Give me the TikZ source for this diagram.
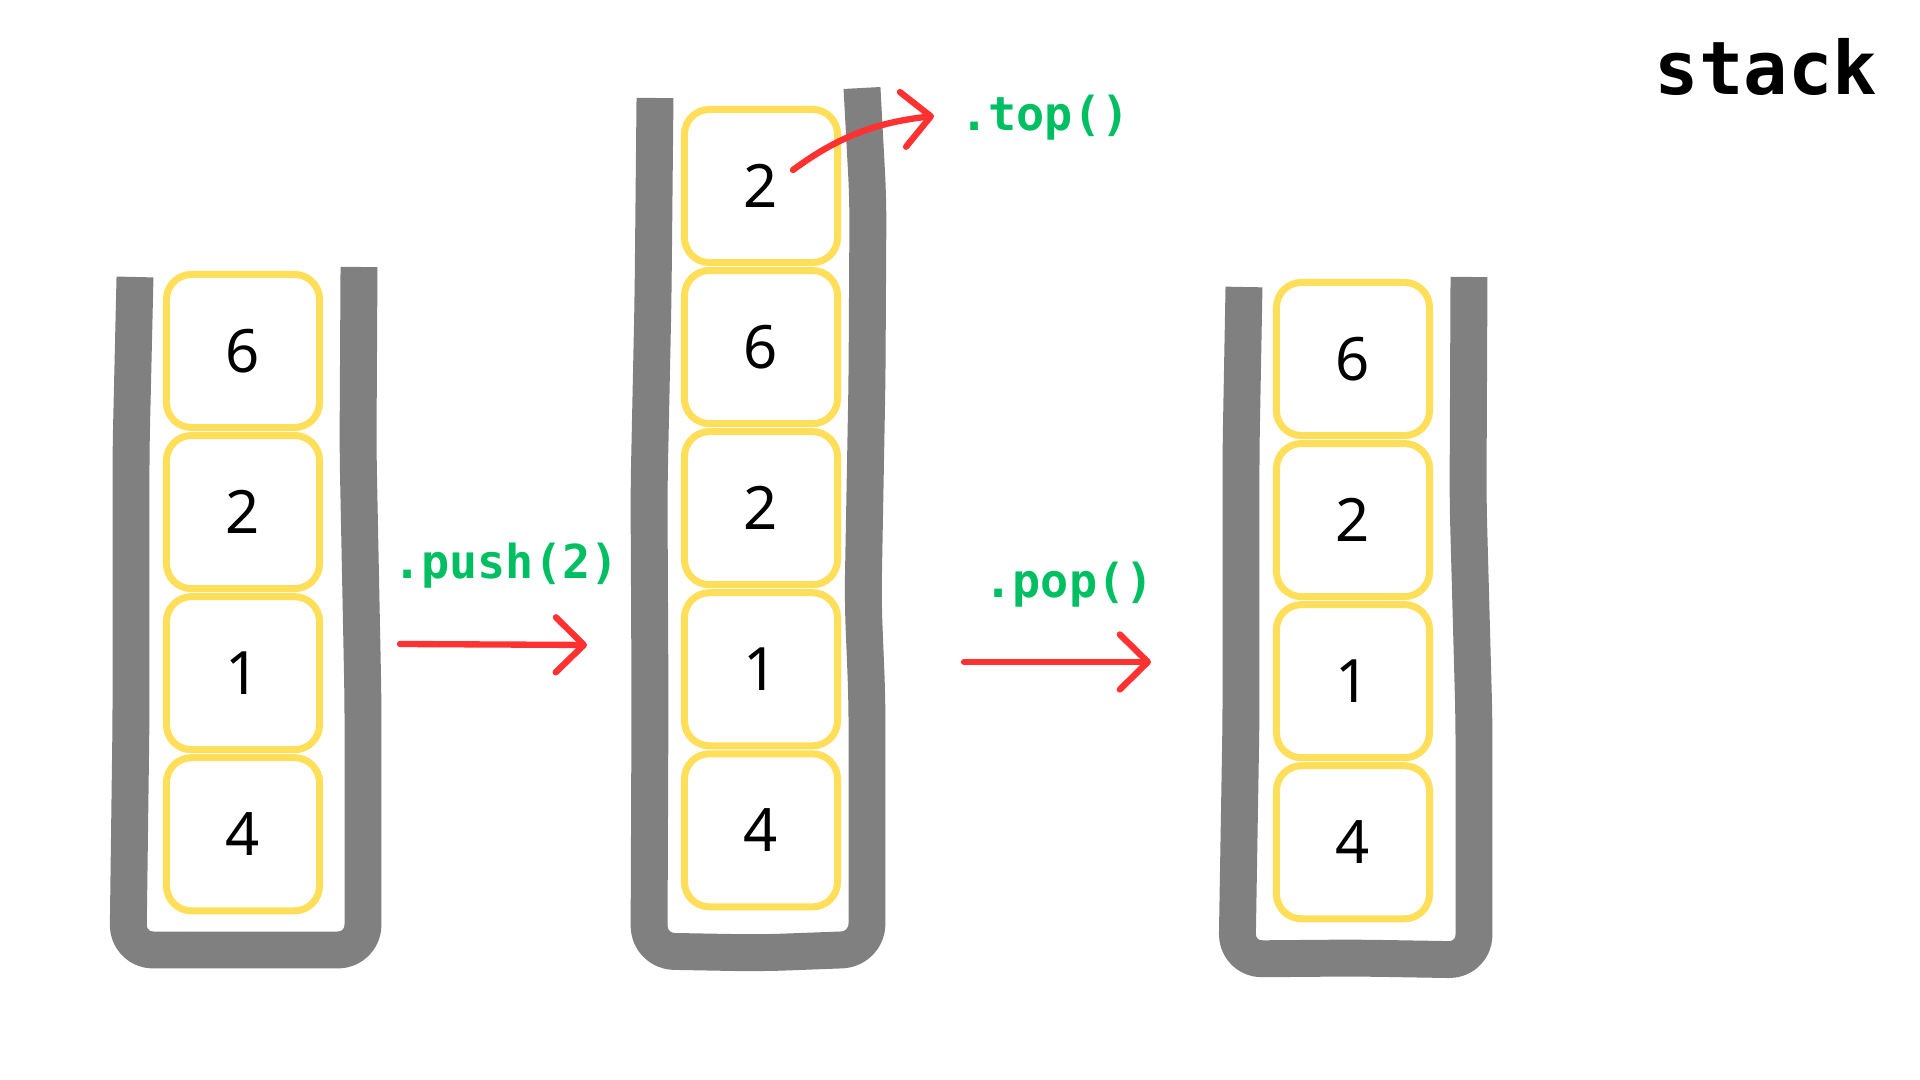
\documentclass[tikz,border=0pt]{standalone}
\usepackage{fontspec}
\setmainfont{Noto Sans}
\newfontfamily\codefont{DejaVu Sans Mono}
\usetikzlibrary{positioning,arrows.meta}
\definecolor{cellc}{RGB}{255,222,89}
\definecolor{wallc}{RGB}{128,128,128}
\definecolor{opc}{RGB}{0,191,99}
\definecolor{movec}{RGB}{255,49,49}
\tikzset{
  cell/.style={draw=cellc, line width=2pt, rounded corners=0.25cm, minimum size=1.53cm, inner sep=0pt, outer sep=0pt, font=\fontsize{17}{20}\selectfont},
  wall/.style={draw=wallc, line width=10.5pt, line join=round, rounded corners=0.25cm},
  op/.style={text=opc, font=\codefont\bfseries\fontsize{13.3}{15}\selectfont},
  move/.style={draw=movec, line width=1.8pt, line cap=round, -{Straight Barb[length=0.28cm, width=0.55cm, round]}}
}

\begin{document}
\begin{tikzpicture}[x=0.01cm, y=-0.01cm, node distance=0.08cm]
  \useasboundingbox (0,0) rectangle (1920,1080);

  % ---- stack before push ----
  \draw[wall] (135,277) -- (131,450) -- (131,720) -- (128,950) -- (245,950) -- (363,950) -- (363,700) -- (358,450) -- (359,267);
  \node[cell] (a6) at (243,351) {6};
  \node[cell, below=of a6] (a2) {2};
  \node[cell, below=of a2] (a1) {1};
  \node[cell, below=of a1] (a4) {4};

  % ---- stack after push ----
  \draw[wall] (655,98) -- (653,300) -- (649,490) -- (650,700) -- (649,951) -- (760,953) -- (867,949) -- (867,700) -- (863,600) -- (867,380) -- (868,200) -- (862,88);
  \node[cell] (b2top) at (761,186) {2};
  \node[cell, below=of b2top] (b6) {6};
  \node[cell, below=of b6] (b2) {2};
  \node[cell, below=of b2] (b1) {1};
  \node[cell, below=of b1] (b4) {4};

  % ---- stack after pop ----
  \draw[wall] (1244,287) -- (1241,450) -- (1241,720) -- (1237,959) -- (1355,958) -- (1474,960) -- (1474,720) -- (1468,500) -- (1469,277);
  \node[cell] (c6) at (1353,359) {6};
  \node[cell, below=of c6] (c2) {2};
  \node[cell, below=of c2] (c1) {1};
  \node[cell, below=of c1] (c4) {4};

  % operations
  \node[op] (push) at (506,566) {.push(2)};
  \node[op] (pop) at (1069,585) {.pop()};
  \node[op] (top) at (1045,118) {.top()};
  \node[font=\codefont\bfseries\fontsize{21}{25}\selectfont] (title) at (1766,67) {stack};

  \coordinate (push-from) at (400,644);
  \coordinate (push-to) at (587,645);
  \coordinate (pop-from) at (964,662);
  \coordinate (pop-to) at (1151,662);
  \coordinate (top-from) at (793,170);
  \coordinate (top-to) at (934,116);

  % flows
  \draw[move] (push-from) -- (push-to);
  \draw[move] (pop-from) -- (pop-to);
  \draw[move] (top-from) .. controls (840,135) and (880,122) .. (top-to);
\end{tikzpicture}
\end{document}
